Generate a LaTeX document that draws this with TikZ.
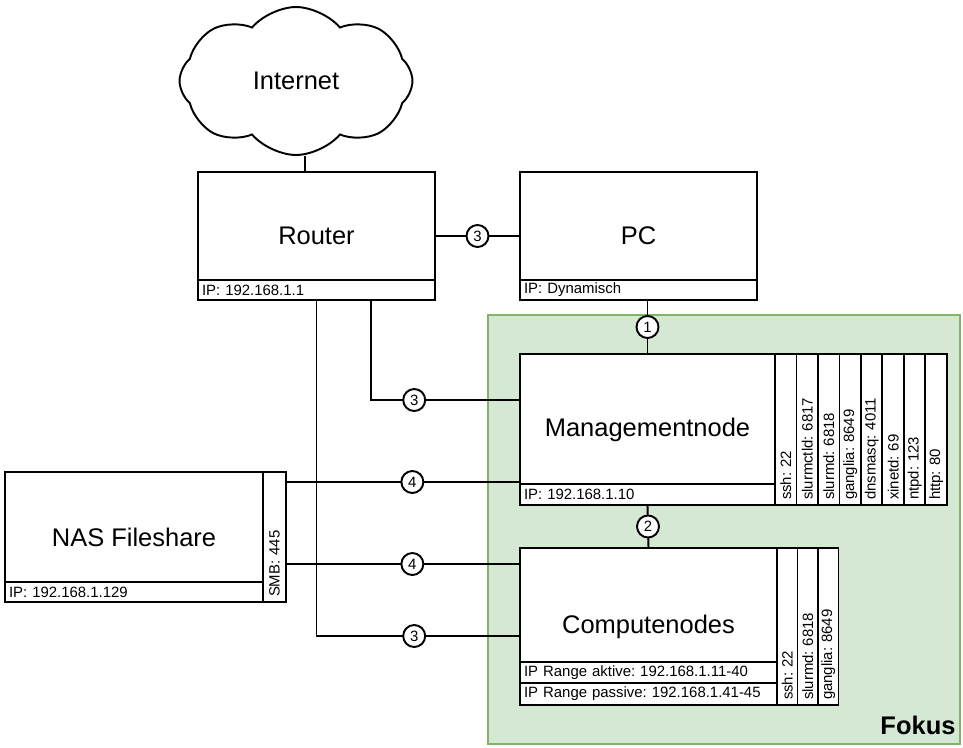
\documentclass[tikz,border=0pt]{standalone}
\usepackage{fontspec}
\setmainfont{Liberation Sans}
\usetikzlibrary{shapes.symbols}
\definecolor{fokusfill}{HTML}{D5E8D4}
\definecolor{fokusline}{HTML}{82B366}
\tikzset{
bigtext/.style={font=\fontsize{14.5}{17}\selectfont},
smalltext/.style={font=\fontsize{8.5}{10}\selectfont\frenchspacing},
device/.style={ % Outer box of a machine, name in the middle
draw,
fill=white,
line width=1.1pt,
outer sep=0pt,
bigtext},
iprow/.style={ % Address line at the bottom of a box
draw,
fill=white,
line width=1.1pt,
outer sep=0pt,
anchor=south west,
inner xsep=0.08cm,
inner ysep=0pt,
align=left,
smalltext},
port/.style={ % Upright service column beside a box
draw,
fill=white,
line width=1.1pt,
outer sep=0pt,
rotate=90,
anchor=north west,
inner xsep=0.1cm,
inner ysep=0pt,
align=left,
smalltext},
num/.style={ % Number of cables on a link
circle,
draw,
fill=white,
line width=1.1pt,
inner sep=0pt,
minimum size=0.44cm,
smalltext},
link/.style={line width=1.1pt}}
\begin{document}
\begin{tikzpicture}[x=0.02cm, y=-0.02cm]
\useasboundingbox (0,0) rectangle (963,747);
\node[draw=fokusline, fill=fokusfill, line width=1.1pt, anchor=north west, inner sep=0pt, minimum width=9.44cm, minimum height=8.58cm] (fokus) at (487,314) {};
\node[anchor=south east, inner xsep=0.1cm, inner ysep=0.2cm, font=\fontsize{14.5}{17}\selectfont\bfseries] (fokuslabel) at (fokus.south east) {Fokus};
\node[cloud, draw, fill=white, line width=1.1pt, cloud puffs=8, cloud puff arc=100, cloud ignores aspect, minimum width=4.66cm, minimum height=2.96cm, bigtext] (internet) at (296,81) {Internet};
\node[device, minimum width=4.74cm, minimum height=2.56cm] (router) at (316.5,236) {Router};
\node[iprow, text width=4.58cm, minimum height=0.4cm] (routerip) at (router.south west) {IP: 192.168.1.1};
\node[device, minimum width=4.74cm, minimum height=2.56cm] (pc) at (638.5,236) {PC};
\node[iprow, text width=4.58cm, minimum height=0.4cm] (pcip) at (pc.south west) {IP: Dynamisch};
\node[device, minimum width=5.1cm, minimum height=3.02cm] (mgmt) at (647.5,429.5) {Managementnode};
\node[iprow, text width=4.94cm, minimum height=0.42cm] (mgmtip) at (mgmt.south west) {IP: 192.168.1.10};
\node[port, minimum height=0.43cm, text width=2.82cm] (mssh) at (mgmt.south east) {ssh: 22};
\node[port, minimum height=0.43cm, text width=2.82cm] (mctld) at (mssh.south west) {slurmctld: 6817};
\node[port, minimum height=0.43cm, text width=2.82cm] (mslurmd) at (mctld.south west) {slurmd: 6818};
\node[port, minimum height=0.43cm, text width=2.82cm] (mganglia) at (mslurmd.south west) {ganglia: 8649};
\node[port, minimum height=0.43cm, text width=2.82cm] (mdns) at (mganglia.south west) {dnsmasq: 4011};
\node[port, minimum height=0.43cm, text width=2.82cm] (mxinetd) at (mdns.south west) {xinetd: 69};
\node[port, minimum height=0.43cm, text width=2.82cm] (mntpd) at (mxinetd.south west) {ntpd: 123};
\node[port, minimum height=0.43cm, text width=2.82cm] (mhttp) at (mntpd.south west) {http: 80};
\node[device, minimum width=5.14cm, minimum height=3.14cm] (compute) at (648.5,626.5) {Computenodes};
\node[iprow, text width=4.98cm, minimum height=0.44cm] (passive) at (compute.south west) {IP Range passive: 192.168.1.41-45};
\node[iprow, text width=4.98cm, minimum height=0.42cm] (aktive) at (passive.north west) {IP Range aktive: 192.168.1.11-40};
\node[port, minimum height=0.41cm, text width=2.94cm] (cssh) at (compute.south east) {ssh: 22};
\node[port, minimum height=0.41cm, text width=2.94cm] (cslurmd) at (cssh.south west) {slurmd: 6818};
\node[port, minimum height=0.41cm, text width=2.94cm] (cganglia) at (cslurmd.south west) {ganglia: 8649};
\node[device, minimum width=5.16cm, minimum height=2.6cm] (nas) at (134,537) {NAS Fileshare};
\node[iprow, text width=5.0cm, minimum height=0.4cm] (nasip) at (nas.south west) {IP: 192.168.1.129};
\node[port, minimum height=0.46cm, text width=2.4cm] (smb) at (nas.south east) {SMB: 445};
\draw[link] ([xshift=0.18cm]internet.south) -- ([xshift=0.18cm]internet.south |- router.north);
\draw[link] (router.east) -- node[num]{3} (pc.west);
\draw[link] (mgmt.north |- pc.south) -- node[num]{1} (mgmt.north);
\draw[link] (mgmt.south) -- node[num]{2} (compute.north);
\draw[link] ([xshift=1.09cm]router.south) |- node[num, pos=0.645]{3} ([yshift=0.59cm]mgmt.west);
\draw[link] (router.south) |- node[num, pos=0.74]{3} ([yshift=-0.19cm]compute.west);
\draw[link] ([yshift=1.1cm]smb.south) -- node[num, pos=0.54]{4} ([yshift=-1.05cm]mgmt.west);
\draw[link] ([yshift=-0.54cm]smb.south) -- node[num, pos=0.54]{4} ([yshift=1.25cm]compute.west);
\end{tikzpicture}
\end{document}
